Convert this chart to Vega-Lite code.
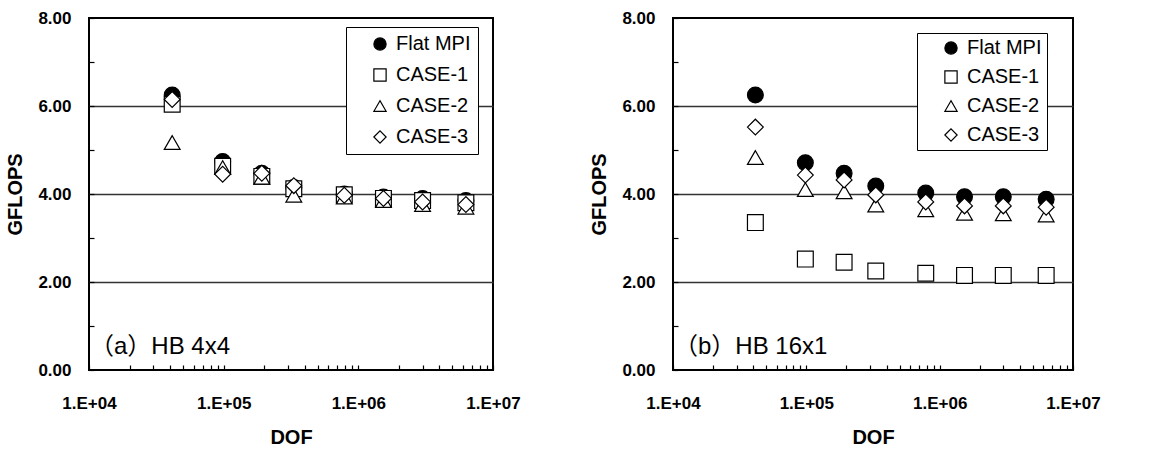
{
  "$schema": "https://vega.github.io/schema/vega-lite/v6.json",
  "background": "white",
  "padding": {"left": 4, "top": 8, "right": 5, "bottom": 5},
  "config": {
    "font": "Liberation Sans",
    "view": {"stroke": "black", "strokeWidth": 2},
    "axis": {
      "labelFont": "Liberation Sans", "labelFontWeight": "bold", "labelFontSize": 17, "labelColor": "black",
      "titleFont": "Liberation Sans", "titleFontWeight": "bold", "titleFontSize": 20, "titleColor": "black",
      "domain": false, "tickColor": "black", "tickSize": -5, "tickWidth": 1.2
    },
    "legend": {
      "orient": "none", "title": null, "strokeColor": "black", "fillColor": "white",
      "labelFont": "Liberation Sans", "labelFontSize": 20, "labelColor": "black",
      "symbolSize": 150, "symbolStrokeColor": "black", "symbolStrokeWidth": 1.2, "labelOffset": 6
    }
  },
  "datasets": {
    "d": [
      {"panel": "a", "series": "Flat MPI", "dof": 41472, "gflops": 6.25},
      {"panel": "a", "series": "Flat MPI", "dof": 98304, "gflops": 4.74},
      {"panel": "a", "series": "Flat MPI", "dof": 192000, "gflops": 4.47},
      {"panel": "a", "series": "Flat MPI", "dof": 331776, "gflops": 4.15},
      {"panel": "a", "series": "Flat MPI", "dof": 786432, "gflops": 4.00},
      {"panel": "a", "series": "Flat MPI", "dof": 1536000, "gflops": 3.93},
      {"panel": "a", "series": "Flat MPI", "dof": 3000000, "gflops": 3.90},
      {"panel": "a", "series": "Flat MPI", "dof": 6291456, "gflops": 3.85},
      {"panel": "a", "series": "CASE-1", "dof": 41472, "gflops": 6.04},
      {"panel": "a", "series": "CASE-1", "dof": 98304, "gflops": 4.63},
      {"panel": "a", "series": "CASE-1", "dof": 192000, "gflops": 4.40},
      {"panel": "a", "series": "CASE-1", "dof": 331776, "gflops": 4.12},
      {"panel": "a", "series": "CASE-1", "dof": 786432, "gflops": 3.98},
      {"panel": "a", "series": "CASE-1", "dof": 1536000, "gflops": 3.90},
      {"panel": "a", "series": "CASE-1", "dof": 3000000, "gflops": 3.85},
      {"panel": "a", "series": "CASE-1", "dof": 6291456, "gflops": 3.80},
      {"panel": "a", "series": "CASE-2", "dof": 41472, "gflops": 5.17},
      {"panel": "a", "series": "CASE-2", "dof": 98304, "gflops": 4.60},
      {"panel": "a", "series": "CASE-2", "dof": 192000, "gflops": 4.38},
      {"panel": "a", "series": "CASE-2", "dof": 331776, "gflops": 3.97},
      {"panel": "a", "series": "CASE-2", "dof": 786432, "gflops": 3.93},
      {"panel": "a", "series": "CASE-2", "dof": 1536000, "gflops": 3.85},
      {"panel": "a", "series": "CASE-2", "dof": 3000000, "gflops": 3.76},
      {"panel": "a", "series": "CASE-2", "dof": 6291456, "gflops": 3.70},
      {"panel": "a", "series": "CASE-3", "dof": 41472, "gflops": 6.15},
      {"panel": "a", "series": "CASE-3", "dof": 98304, "gflops": 4.45},
      {"panel": "a", "series": "CASE-3", "dof": 192000, "gflops": 4.47},
      {"panel": "a", "series": "CASE-3", "dof": 331776, "gflops": 4.19},
      {"panel": "a", "series": "CASE-3", "dof": 786432, "gflops": 3.97},
      {"panel": "a", "series": "CASE-3", "dof": 1536000, "gflops": 3.90},
      {"panel": "a", "series": "CASE-3", "dof": 3000000, "gflops": 3.82},
      {"panel": "a", "series": "CASE-3", "dof": 6291456, "gflops": 3.76},
      {"panel": "b", "series": "Flat MPI", "dof": 41472, "gflops": 6.25},
      {"panel": "b", "series": "Flat MPI", "dof": 98304, "gflops": 4.71},
      {"panel": "b", "series": "Flat MPI", "dof": 192000, "gflops": 4.47},
      {"panel": "b", "series": "Flat MPI", "dof": 331776, "gflops": 4.18},
      {"panel": "b", "series": "Flat MPI", "dof": 786432, "gflops": 4.02},
      {"panel": "b", "series": "Flat MPI", "dof": 1536000, "gflops": 3.94},
      {"panel": "b", "series": "Flat MPI", "dof": 3000000, "gflops": 3.94},
      {"panel": "b", "series": "Flat MPI", "dof": 6291456, "gflops": 3.88},
      {"panel": "b", "series": "CASE-1", "dof": 41472, "gflops": 3.35},
      {"panel": "b", "series": "CASE-1", "dof": 98304, "gflops": 2.52},
      {"panel": "b", "series": "CASE-1", "dof": 192000, "gflops": 2.45},
      {"panel": "b", "series": "CASE-1", "dof": 331776, "gflops": 2.25},
      {"panel": "b", "series": "CASE-1", "dof": 786432, "gflops": 2.20},
      {"panel": "b", "series": "CASE-1", "dof": 1536000, "gflops": 2.15},
      {"panel": "b", "series": "CASE-1", "dof": 3000000, "gflops": 2.15},
      {"panel": "b", "series": "CASE-1", "dof": 6291456, "gflops": 2.15},
      {"panel": "b", "series": "CASE-2", "dof": 41472, "gflops": 4.83},
      {"panel": "b", "series": "CASE-2", "dof": 98304, "gflops": 4.10},
      {"panel": "b", "series": "CASE-2", "dof": 192000, "gflops": 4.05},
      {"panel": "b", "series": "CASE-2", "dof": 331776, "gflops": 3.75},
      {"panel": "b", "series": "CASE-2", "dof": 786432, "gflops": 3.64},
      {"panel": "b", "series": "CASE-2", "dof": 1536000, "gflops": 3.56},
      {"panel": "b", "series": "CASE-2", "dof": 3000000, "gflops": 3.55},
      {"panel": "b", "series": "CASE-2", "dof": 6291456, "gflops": 3.52},
      {"panel": "b", "series": "CASE-3", "dof": 41472, "gflops": 5.52},
      {"panel": "b", "series": "CASE-3", "dof": 98304, "gflops": 4.43},
      {"panel": "b", "series": "CASE-3", "dof": 192000, "gflops": 4.32},
      {"panel": "b", "series": "CASE-3", "dof": 331776, "gflops": 3.98},
      {"panel": "b", "series": "CASE-3", "dof": 786432, "gflops": 3.82},
      {"panel": "b", "series": "CASE-3", "dof": 1536000, "gflops": 3.73},
      {"panel": "b", "series": "CASE-3", "dof": 3000000, "gflops": 3.73},
      {"panel": "b", "series": "CASE-3", "dof": 6291456, "gflops": 3.70}
    ]
  },
  "bounds": "flush",
  "spacing": 180,
  "resolve": {
    "scale": {"x": "independent", "y": "independent", "shape": "independent", "fill": "independent", "stroke": "independent"},
    "legend": {"shape": "independent", "fill": "independent", "stroke": "independent"}
  },
  "hconcat": [
    {
      "width": 404, "height": 352,
      "layer": [
        {
          "data": {"name": "d"},
          "transform": [{"filter": "datum.panel == 'a'"}],
          "mark": {"type": "point", "filled": true, "strokeWidth": 1.2, "size": 250, "opacity": 1},
          "encoding": {
            "x": {"field": "dof", "type": "quantitative", "title": "DOF",
              "scale": {"type": "log", "domain": [10000, 10000000], "nice": false},
              "axis": {"values": [10000,20000,30000,40000,50000,60000,70000,80000,90000,100000,200000,300000,400000,500000,600000,700000,800000,900000,1000000,2000000,3000000,4000000,5000000,6000000,7000000,8000000,9000000,10000000],
                "labelExpr": "abs(log(datum.value)/LN10 - round(log(datum.value)/LN10)) < 0.000001 ? '1.E+' + format(round(log(datum.value)/LN10), '02d') : ''",
                "labelOverlap": false, "labelFlush": false, "labelPadding": 30, "titlePadding": 16, "grid": false}},
            "y": {"field": "gflops", "type": "quantitative", "title": "GFLOPS",
              "scale": {"domain": [0, 8], "nice": false},
              "axis": {"values": [0,0.5,1,1.5,2,2.5,3,3.5,4,4.5,5,5.5,6,6.5,7,7.5,8],
                "labelExpr": "datum.value % 2 == 0 ? format(datum.value, '.2f') : ''",
                "labelOverlap": false, "labelFlush": false, "labelPadding": 23, "titlePadding": 12,
                "grid": true, "gridColor": "#333333", "gridWidth": 1.3,
                "gridOpacity": {"condition": {"test": "datum.value == 2 || datum.value == 4 || datum.value == 6", "value": 1}, "value": 0}}},
            "shape": {"field": "series", "type": "nominal",
              "scale": {"domain": ["Flat MPI", "CASE-1", "CASE-2", "CASE-3"], "range": ["circle", "square", "triangle-up", "diamond"]},
              "legend": {"legendX": 257, "legendY": 9, "padding": 7, "symbolOffset": 17, "rowPadding": 11,
                "labelExpr": "datum.label + '\u2002\u2002'"}},
            "fill": {"field": "series", "type": "nominal",
              "scale": {"domain": ["Flat MPI", "CASE-1", "CASE-2", "CASE-3"], "range": ["black", "white", "white", "white"]},
              "legend": {"legendX": 257, "legendY": 9, "padding": 7, "symbolOffset": 17, "rowPadding": 11,
                "labelExpr": "datum.label + '\u2002\u2002'"}},
            "stroke": {"field": "series", "type": "nominal",
              "scale": {"domain": ["Flat MPI", "CASE-1", "CASE-2", "CASE-3"], "range": ["black", "black", "black", "black"]},
              "legend": {"legendX": 257, "legendY": 9, "padding": 7, "symbolOffset": 17, "rowPadding": 11,
                "labelExpr": "datum.label + '\u2002\u2002'"}}
          }
        },
        {
          "data": {"values": [{"note": "（a）HB 4x4"}]},
          "mark": {"type": "text", "align": "left", "baseline": "alphabetic", "font": "Liberation Sans, Noto Sans CJK JP", "fontSize": 24, "color": "black"},
          "encoding": {
            "x": {"datum": 10170, "type": "quantitative"},
            "y": {"datum": 0.36, "type": "quantitative"},
            "text": {"field": "note"}
          }
        }
      ]
    },
    {
      "width": 400, "height": 352,
      "layer": [
        {
          "data": {"name": "d"},
          "transform": [{"filter": "datum.panel == 'b'"}],
          "mark": {"type": "point", "filled": true, "strokeWidth": 1.2, "size": 250, "opacity": 1},
          "encoding": {
            "x": {"field": "dof", "type": "quantitative", "title": "DOF",
              "scale": {"type": "log", "domain": [10000, 10000000], "nice": false},
              "axis": {"values": [10000,20000,30000,40000,50000,60000,70000,80000,90000,100000,200000,300000,400000,500000,600000,700000,800000,900000,1000000,2000000,3000000,4000000,5000000,6000000,7000000,8000000,9000000,10000000],
                "labelExpr": "abs(log(datum.value)/LN10 - round(log(datum.value)/LN10)) < 0.000001 ? '1.E+' + format(round(log(datum.value)/LN10), '02d') : ''",
                "labelOverlap": false, "labelFlush": false, "labelPadding": 30, "titlePadding": 16, "grid": false}},
            "y": {"field": "gflops", "type": "quantitative", "title": "GFLOPS",
              "scale": {"domain": [0, 8], "nice": false},
              "axis": {"values": [0,0.5,1,1.5,2,2.5,3,3.5,4,4.5,5,5.5,6,6.5,7,7.5,8],
                "labelExpr": "datum.value % 2 == 0 ? format(datum.value, '.2f') : ''",
                "labelOverlap": false, "labelFlush": false, "labelPadding": 23, "titlePadding": 12,
                "grid": true, "gridColor": "#333333", "gridWidth": 1.3,
                "gridOpacity": {"condition": {"test": "datum.value == 2 || datum.value == 4 || datum.value == 6", "value": 1}, "value": 0}}},
            "shape": {"field": "series", "type": "nominal",
              "scale": {"domain": ["Flat MPI", "CASE-1", "CASE-2", "CASE-3"], "range": ["circle", "square", "triangle-up", "diamond"]},
              "legend": {"legendX": 244, "legendY": 15, "padding": 5, "symbolOffset": 19, "rowPadding": 9,
                "labelExpr": "datum.label + '\u2002\u2002'"}},
            "fill": {"field": "series", "type": "nominal",
              "scale": {"domain": ["Flat MPI", "CASE-1", "CASE-2", "CASE-3"], "range": ["black", "white", "white", "white"]},
              "legend": {"legendX": 244, "legendY": 15, "padding": 5, "symbolOffset": 19, "rowPadding": 9,
                "labelExpr": "datum.label + '\u2002\u2002'"}},
            "stroke": {"field": "series", "type": "nominal",
              "scale": {"domain": ["Flat MPI", "CASE-1", "CASE-2", "CASE-3"], "range": ["black", "black", "black", "black"]},
              "legend": {"legendX": 244, "legendY": 15, "padding": 5, "symbolOffset": 19, "rowPadding": 9,
                "labelExpr": "datum.label + '\u2002\u2002'"}}
          }
        },
        {
          "data": {"values": [{"note": "（b）HB 16x1"}]},
          "mark": {"type": "text", "align": "left", "baseline": "alphabetic", "font": "Liberation Sans, Noto Sans CJK JP", "fontSize": 24, "color": "black"},
          "encoding": {
            "x": {"datum": 10170, "type": "quantitative"},
            "y": {"datum": 0.36, "type": "quantitative"},
            "text": {"field": "note"}
          }
        }
      ]
    }
  ]
}
